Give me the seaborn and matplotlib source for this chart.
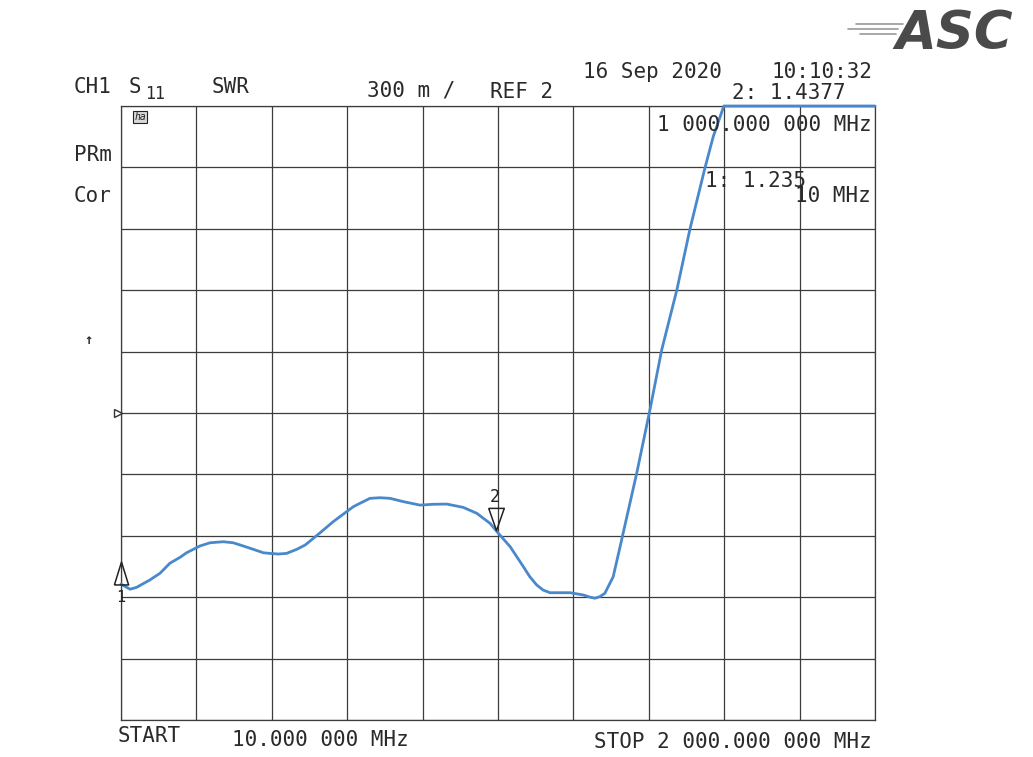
import numpy as np
import matplotlib
matplotlib.use("Agg")
import matplotlib.pyplot as plt
import matplotlib.transforms as mtransforms
from matplotlib.lines import Line2D
import seaborn as sns

# sweep / scale settings of the analyser
start_mhz = 10
stop_mhz = 2000
ref_swr = 2.0
per_div = 0.3
ref_div = 5          # reference line is 5 divisions up from the bottom
n_div = 10

# SWR trace (MHz, SWR)
freq_mhz = [10, 34, 51, 86, 113, 139, 166, 183, 218, 245, 280, 306, 333,
            359, 386, 403, 425, 447, 474, 496, 518, 544, 570, 623, 641,
            667, 694, 720, 755, 799, 834, 870, 913, 949, 966, 984, 1006,
            1037, 1072, 1089, 1107, 1124, 1142, 1195, 1230, 1248, 1261,
            1274, 1287, 1309, 1327, 1371, 1406, 1437, 1477, 1512, 1551,
            1573, 1601, 2000]
swr = [1.164, 1.139, 1.148, 1.184, 1.217, 1.266, 1.295, 1.317, 1.350,
       1.366, 1.371, 1.366, 1.350, 1.334, 1.317, 1.314, 1.311, 1.314,
       1.334, 1.355, 1.388, 1.428, 1.469, 1.542, 1.559, 1.583, 1.586,
       1.583, 1.567, 1.550, 1.554, 1.555, 1.539, 1.510, 1.486, 1.461,
       1.412, 1.347, 1.249, 1.200, 1.160, 1.135, 1.122, 1.122, 1.111,
       1.100, 1.095, 1.103, 1.119, 1.200, 1.345, 1.705, 2.015, 2.308,
       2.601, 2.902, 3.196, 3.350, 3.5, 3.5]

# markers
marker_names = ["1", "2"]
marker_freq = [10, 1000]
marker_text = ["1: 1.235", "2: 1.4377"]

sns.set_style("white")
plt.rcParams["font.family"] = ["DejaVu Sans Mono"]

W, H = 1033, 757
fig = plt.figure(figsize=(W / 100, H / 100), dpi=100)
fig.patch.set_facecolor("white")


def px(x, y):
    return x / W, 1 - y / H


ax = fig.add_axes([121 / W, 1 - 720 / H, 754 / W, 614 / H])
ymin = ref_swr - ref_div * per_div
ymax = ymin + n_div * per_div
ax.set_xlim(start_mhz, stop_mhz)
ax.set_ylim(ymin, ymax)
ax.set_xticks(np.linspace(start_mhz, stop_mhz, n_div + 1))
ax.set_yticks(np.linspace(ymin, ymax, n_div + 1))
ax.tick_params(length=0, labelbottom=False, labelleft=False)
ax.grid(True, color="#3c3c3c", lw=0.9)
for s in ax.spines.values():
    s.set_color("#3c3c3c")
    s.set_linewidth(0.9)

sns.lineplot(x=freq_mhz, y=swr, ax=ax, color="#4a88cc", linewidth=2.0,
             estimator=None, clip_on=False, zorder=5)

# marker triangles
mk_swr = np.interp(marker_freq, freq_mhz, swr)
tri_up = [(-0.62, -1), (0.62, -1), (0, 1), (-0.62, -1)]
tri_dn = [(-0.7, 1), (0.7, 1), (0, -1), (-0.7, 1)]
up_tr = mtransforms.offset_copy(ax.transData, fig=fig, x=0, y=8.2, units="points")
ax.plot(marker_freq[0], mk_swr[0], marker=tri_up, ms=16.5, mfc="none",
        mec="#222222", mew=1.1, transform=up_tr, clip_on=False, zorder=6)
ax.plot(marker_freq[1], mk_swr[1], marker=tri_dn, ms=16, mfc="none",
        mec="#222222", mew=1.1, transform=up_tr, clip_on=False, zorder=6)
ax.annotate(marker_names[0], (marker_freq[0], mk_swr[0]), xytext=(0, -10),
            textcoords="offset points", ha="center", va="center",
            fontsize=11, color="#222222", annotation_clip=False)
ax.annotate(marker_names[1], (marker_freq[1], mk_swr[1]), xytext=(-1, 24),
            textcoords="offset points", ha="center", va="center",
            fontsize=12, color="#222222", annotation_clip=False)

# reference position marker
ref_tr = mtransforms.blended_transform_factory(ax.transAxes, ax.transData)
ax.plot(-0.004, ref_swr, marker=">", ms=6, mfc="none", mec="#333333",
        mew=1, transform=ref_tr, clip_on=False)

# header / annotation texts
tk = dict(fontsize=15, color="#2a2a2a", va="center")
fig.text(*px(74, 87), "CH1", **tk)
fig.text(*px(129, 87), "S", **tk)
fig.text(*px(145, 94), "11", fontsize=12, color="#2a2a2a", va="center")
fig.text(*px(212, 87), "SWR", **tk)
fig.text(*px(367, 91), "300 m /", **tk)
fig.text(*px(490, 92), "REF 2", **tk)
fig.text(*px(583, 72), "16 Sep 2020", **tk)
fig.text(*px(873, 72), "10:10:32", ha="right", **tk)
fig.text(*px(846, 93), marker_text[1], ha="right", **tk)
fig.text(*px(872, 125), "1 000.000 000 MHz", ha="right", **tk)
fig.text(*px(806, 181), marker_text[0], ha="right", **tk)
fig.text(*px(871, 196), "10 MHz", ha="right", **tk)
fig.text(*px(74, 155), "PRm", **tk)
fig.text(*px(74, 196), "Cor", **tk)
fig.text(*px(88, 340), "\u2191", fontsize=10, color="#2a2a2a",
         ha="center", va="center", fontweight="bold")
fig.text(*px(140, 117), "ha", fontsize=7, color="#222222", ha="center",
         va="center", style="italic",
         bbox=dict(boxstyle="square,pad=0.12", fc="#d8d8d8", ec="#222222", lw=0.8))
fig.text(*px(118, 736), "START", **tk)
fig.text(*px(232, 740), "10.000 000 MHz", **tk)
fig.text(*px(872, 742), "STOP 2 000.000 000 MHz", ha="right", **tk)

# logo
fig.text(*px(1013, 34), "ASC", fontsize=38, color="#4a4a4a", ha="right",
         va="center", fontweight="bold", style="italic",
         family=["DejaVu Sans"])
for yy, x0, x1 in [(24, 856, 903), (29, 848, 898), (34, 860, 896)]:
    fig.add_artist(Line2D([x0 / W, x1 / W], [1 - yy / H] * 2,
                          color="#9a9a9a", lw=1.2, transform=fig.transFigure))

fig.savefig("out.png", dpi=100, facecolor="white")
